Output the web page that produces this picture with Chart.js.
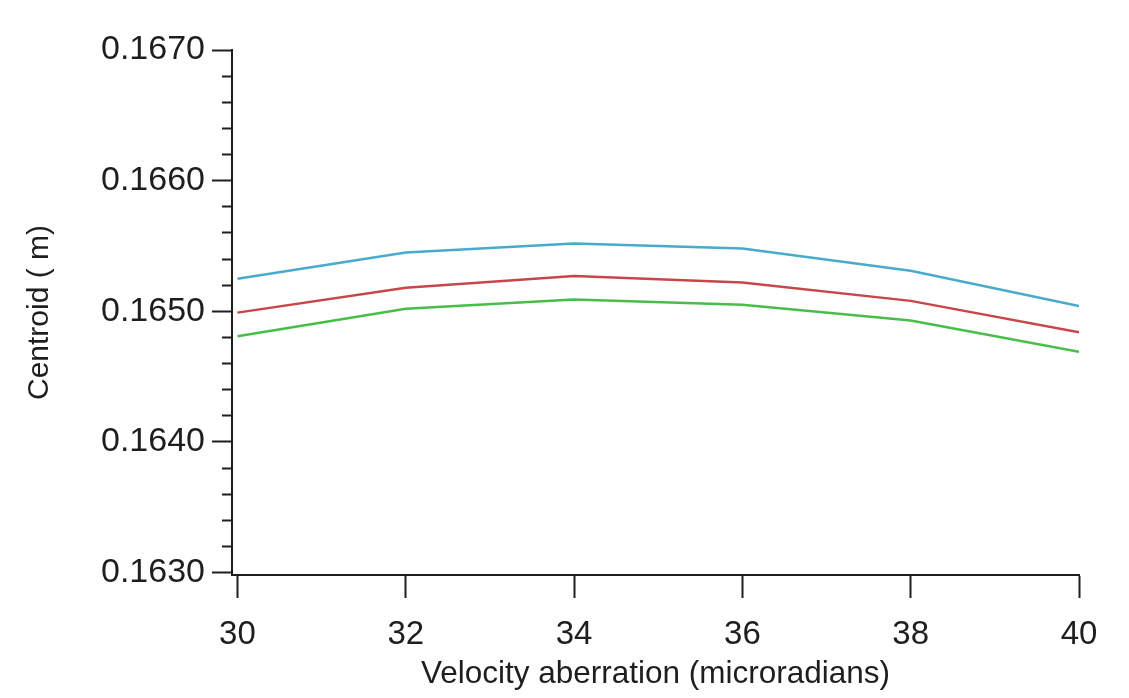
<!DOCTYPE html>
<html>
<head>
<meta charset="utf-8">
<script src="https://cdn.jsdelivr.net/npm/chart.js@4/dist/chart.umd.min.js"></script>
<style>
  html, body { margin: 0; padding: 0; background: #ffffff; }
  #wrap { width: 1129px; height: 698px; position: relative; }
</style>
</head>
<body>
<div id="wrap"><canvas id="chart"></canvas></div>
<script>
// Velocity aberration (microradians)
const aberration = [30, 32, 34, 36, 38, 40];

// Centroid position (m) for the three curves
const centroidBlue  = [0.16525, 0.16545, 0.16552, 0.16548, 0.16531, 0.16504];
const centroidRed   = [0.16499, 0.16518, 0.16527, 0.16522, 0.16508, 0.16484];
const centroidGreen = [0.16481, 0.16502, 0.16509, 0.16505, 0.16493, 0.16469];

// Axis tick positions
const xTicks = [30, 32, 34, 36, 38, 40];
const yMajorTicks = [0.1630, 0.1640, 0.1650, 0.1660, 0.1670];
const yMinorTicks = [0.1632, 0.1634, 0.1636, 0.1638,
                     0.1642, 0.1644, 0.1646, 0.1648,
                     0.1652, 0.1654, 0.1656, 0.1658,
                     0.1662, 0.1664, 0.1666, 0.1668];

const FONT = '"Liberation Sans", Arial, Helvetica, sans-serif';
const INK = '#1e1e1e';

const toPoints = ys => aberration.map((x, i) => ({ x: x, y: ys[i] }));
const series = (data, color) => ({
  data: toPoints(data),
  borderColor: color,
  borderWidth: 2.5,
  pointRadius: 0,
  tension: 0,
  fill: false
});

new Chart(document.getElementById('chart'), {
  type: 'line',
  data: {
    datasets: [
      series(centroidBlue,  'rgb(72, 170, 205)'),
      series(centroidRed,   'rgb(200, 70, 72)'),
      series(centroidGreen, 'rgb(72, 190, 72)')
    ]
  },
  options: {
    responsive: true,
    maintainAspectRatio: false,
    animation: false,
    devicePixelRatio: 1,
    layout: { padding: { left: 18, top: 50, right: 50, bottom: 1 } },
    plugins: { legend: { display: false }, tooltip: { enabled: false } },
    scales: {
      x: {
        type: 'linear',
        position: 'bottom',
        min: 29.935,
        max: 40,
        afterBuildTicks: s => { s.ticks = xTicks.map(v => ({ value: v })); },
        afterFit: s => { s.height = 698 - 1 - 575; },
        grid: { drawOnChartArea: false, drawTicks: true, tickLength: 23, tickWidth: 2, tickColor: INK },
        border: { color: INK, width: 2 },
        ticks: { font: { family: FONT, size: 33 }, color: INK, padding: 17, maxRotation: 0, autoSkip: false },
        title: {
          display: true,
          text: 'Velocity aberration (microradians)',
          font: { family: FONT, size: 31.5 },
          color: INK,
          padding: { top: 4, bottom: 4 }
        }
      },
      y: {
        type: 'linear',
        position: 'left',
        weight: 1,
        min: 0.162982,
        max: 0.1670,
        afterBuildTicks: s => { s.ticks = yMajorTicks.map(v => ({ value: v })); },
        afterFit: s => { s.width = 214; },
        grid: { drawOnChartArea: false, drawTicks: true, tickLength: 20, tickWidth: 2, tickColor: INK },
        border: { color: INK, width: 2 },
        ticks: {
          font: { family: FONT, size: 34 },
          color: INK,
          padding: 7,
          autoSkip: false,
          callback: v => v.toFixed(4)
        },
        title: {
          display: true,
          text: 'Centroid ( m)',
          font: { family: FONT, size: 30 },
          color: INK,
          padding: { top: 4, bottom: 4 }
        }
      },
      yMinor: {
        type: 'linear',
        position: 'left',
        weight: 0,
        min: 0.162982,
        max: 0.1670,
        afterBuildTicks: s => { s.ticks = yMinorTicks.map(v => ({ value: v })); },
        afterFit: s => { s.width = 0; },
        grid: { drawOnChartArea: false, drawTicks: true, tickLength: 10, tickWidth: 2, tickColor: INK },
        border: { color: INK, width: 2 },
        ticks: { display: false, autoSkip: false, callback: () => '' }
      }
    }
  }
});
</script>
</body>
</html>
